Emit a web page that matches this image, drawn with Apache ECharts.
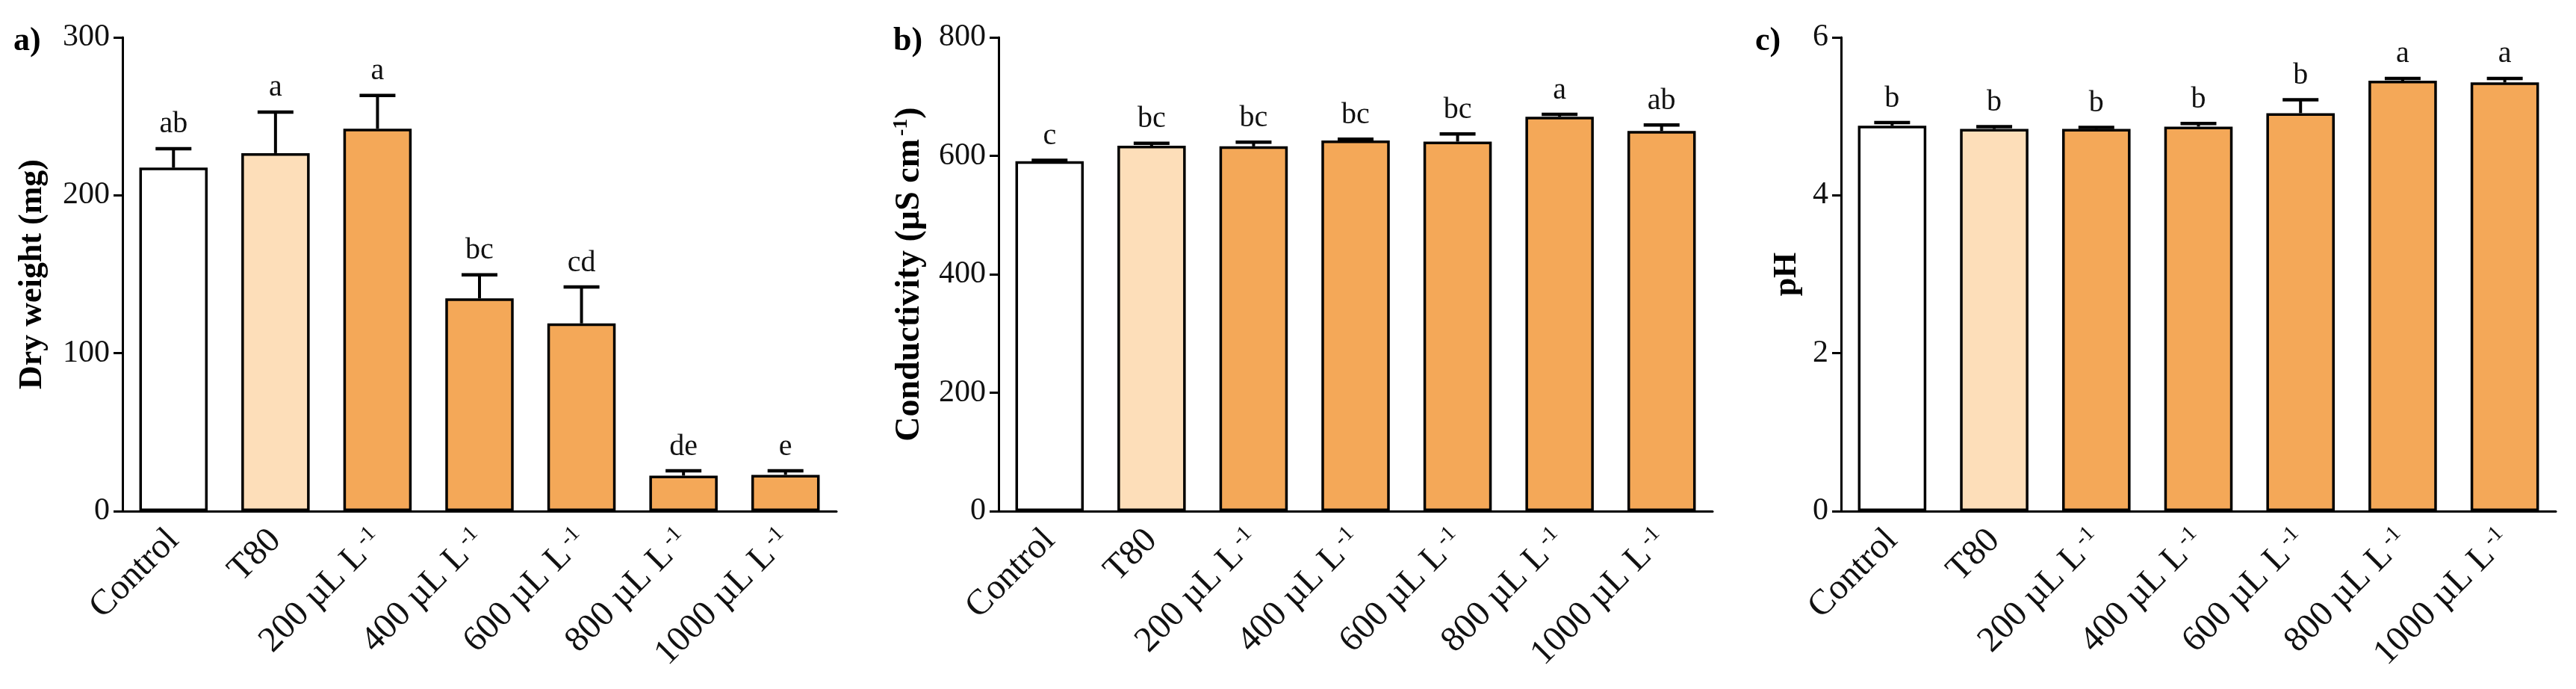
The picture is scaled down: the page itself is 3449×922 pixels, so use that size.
<!DOCTYPE html>
<html>
<head>
<meta charset="utf-8">
<script src="https://cdn.jsdelivr.net/npm/echarts@6/dist/echarts.min.js"></script>
<style>
html,body{margin:0;padding:0;background:#fff;}
#chart{width:3449px;height:922px;}
</style>
</head>
<body>
<div id="chart"></div>
<script>
// ---- data ----
const categories = ['Control', 'T80', '200 µL L{sup|-1}', '400 µL L{sup|-1}', '600 µL L{sup|-1}', '800 µL L{sup|-1}', '1000 µL L{sup|-1}'];

const dryWeightMean = [217.5, 226.7, 242.2, 134.7, 118.9, 22.5, 23];
const dryWeightErr = [12, 26, 21, 15, 23, 3, 2.5];
const dryWeightLetters = ['ab', 'a', 'a', 'bc', 'cd', 'de', 'e'];

const conductivityMean = [591, 617, 616, 626, 624, 666, 642];
const conductivityErr = [1.5, 4, 7, 2, 13, 4, 10];
const conductivityLetters = ['c', 'bc', 'bc', 'bc', 'bc', 'a', 'ab'];

const phMean = [4.88, 4.84, 4.84, 4.87, 5.04, 5.45, 5.43];
const phErr = [0.04, 0.03, 0.02, 0.04, 0.17, 0.03, 0.05];
const phLetters = ['b', 'b', 'b', 'b', 'b', 'a', 'a'];

const yTicksA = [0, 100, 200, 300];
const yTicksB = [0, 200, 400, 600, 800];
const yTicksC = [0, 2, 4, 6];

// ---- styles ----
const FONT = 'Liberation Serif';
const barColors = ['#FFFFFF', '#FDDEB9', '#F4A858', '#F4A858', '#F4A858', '#F4A858', '#F4A858'];
const grids = [
  { left: 164, width: 956, top: 50, bottom: 238 },
  { left: 1337, width: 956, top: 50, bottom: 238 },
  { left: 2465, width: 957, top: 50, bottom: 238 }
];
const panels = [
  { mean: dryWeightMean, err: dryWeightErr, letters: dryWeightLetters, ticks: yTicksA, name: 'Dry weight (mg)', gap: 98, nameSize: 44, tag: 'a)', tagX: 18 },
  { mean: conductivityMean, err: conductivityErr, letters: conductivityLetters, ticks: yTicksB, name: 'Conductivity (µS cm{sup|-1})', gap: 94, nameSize: 46, tag: 'b)', tagX: 1196 },
  { mean: phMean, err: phErr, letters: phLetters, ticks: yTicksC, name: 'pH', gap: 50, nameSize: 44, tag: 'c)', tagX: 2350 }
];

const xAxes = [], yAxes = [], series = [], titles = [];
panels.forEach((p, i) => {
  xAxes.push({
    type: 'category', gridIndex: i, data: categories, boundaryGap: true,
    axisLine: { lineStyle: { color: '#000', width: 3 } },
    axisTick: { alignWithLabel: true, length: 15, lineStyle: { color: '#000', width: 3 } },
    axisLabel: {
      rotate: 45, margin: 32, fontFamily: FONT, fontSize: 48, color: '#111', interval: 0,
      rich: {
        sup: { fontFamily: FONT, fontSize: 29, color: '#111', verticalAlign: 'top', lineHeight: 29, padding: [0, 0, 23, 5] }
      }
    }
  });
  const tk = p.ticks;
  yAxes.push({
    type: 'value', gridIndex: i, min: tk[0], max: tk[tk.length - 1], interval: tk[1] - tk[0],
    splitLine: { show: false },
    axisLine: { show: true, lineStyle: { color: '#000', width: 3 } },
    axisTick: { show: true, length: 12, lineStyle: { color: '#000', width: 3 } },
    axisLabel: { margin: 17, fontFamily: FONT, fontSize: 42, color: '#111' },
    name: p.name, nameLocation: 'middle', nameGap: p.gap, nameRotate: 90,
    nameTextStyle: {
      fontFamily: FONT, fontSize: p.nameSize, fontWeight: 'bold', color: '#000',
      rich: { sup: { fontFamily: FONT, fontSize: 28, fontWeight: 'bold', color: '#000', padding: [0, 0, 22, 4] } }
    }
  });
  series.push({
    type: 'bar', xAxisIndex: i, yAxisIndex: i, barCategoryGap: '33%',
    data: p.mean.map((v, k) => ({ value: v, itemStyle: { color: barColors[k] } })),
    itemStyle: { borderColor: '#000', borderWidth: 3.5 },
    z: 2
  });
  series.push({
    type: 'custom', xAxisIndex: i, yAxisIndex: i, z: 5,
    data: p.mean.map((v, k) => [k, v, p.err[k]]),
    renderItem: (params, api) => {
      const x = api.value(0), m = api.value(1), e = api.value(2);
      const p0 = api.coord([x, m]);
      const p1 = api.coord([x, m + e]);
      const half = 24;
      return {
        type: 'group',
        children: [
          { type: 'line', shape: { x1: p0[0], y1: p0[1], x2: p1[0], y2: p1[1] }, style: { stroke: '#000', lineWidth: 4 } },
          { type: 'line', shape: { x1: p1[0] - half, y1: p1[1], x2: p1[0] + half, y2: p1[1] }, style: { stroke: '#000', lineWidth: 4.5 } },
          { type: 'text', x: p1[0], y: p1[1] - 12,
            style: { text: p.letters[params.dataIndex], fontFamily: FONT, fontSize: 40, fill: '#111', align: 'center', verticalAlign: 'bottom' } }
        ]
      };
    }
  });
  titles.push({
    text: p.tag, left: p.tagX, top: 34, padding: 0,
    textStyle: { fontFamily: FONT, fontSize: 44, fontWeight: 'bold', color: '#000' }
  });
});

const chart = echarts.init(document.getElementById('chart'), null, { renderer: 'canvas' });
chart.setOption({
  backgroundColor: '#fff',
  animation: false,
  title: titles,
  grid: grids,
  xAxis: xAxes,
  yAxis: yAxes,
  series: series
});
</script>
</body>
</html>
